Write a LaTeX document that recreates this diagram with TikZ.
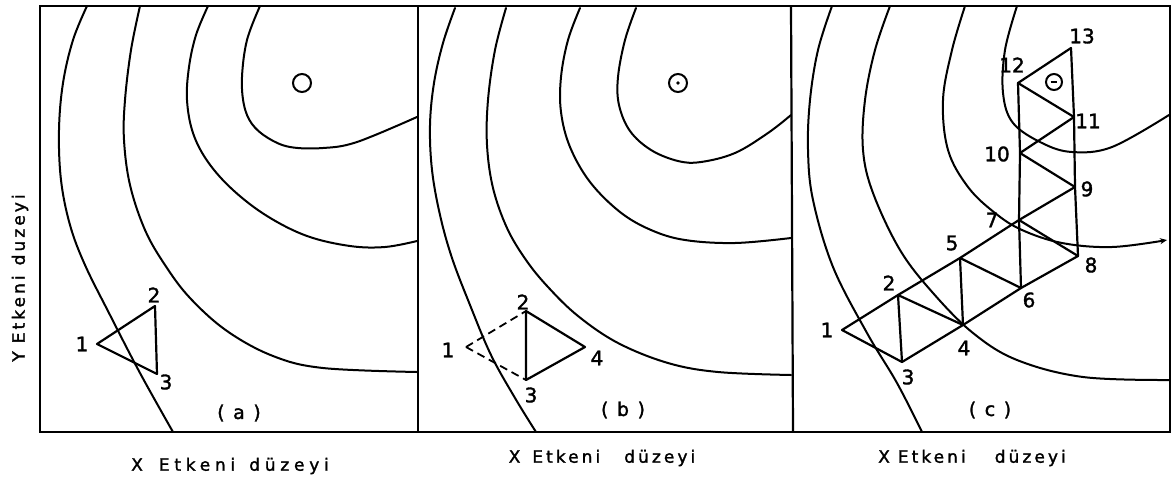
\documentclass[tikz,border=0pt]{standalone}
\usepackage{fontspec}
\setmainfont[FakeBold=1.6]{DejaVu Sans}
\newfontfamily\lsA[LetterSpace=28,FakeBold=1.6]{DejaVu Sans}
\newfontfamily\lsB[LetterSpace=18,FakeBold=1.6]{DejaVu Sans}
\newfontfamily\lsY[LetterSpace=18,FakeBold=1.6]{DejaVu Sans}
\newfontfamily\lsC[LetterSpace=45,FakeBold=1.6]{DejaVu Sans}
\usetikzlibrary{arrows.meta}
\begin{document}
\begin{tikzpicture}[x=1pt,y=-1pt,
  contour/.style={line width=2pt, line cap=round},
  frame/.style={line width=2.2pt},
  edge/.style={line width=2.2pt, line join=round, line cap=round},
  dashedge/.style={line width=1.8pt, dash pattern=on 8pt off 5pt},
  num/.style={inner sep=0pt, font=\fontsize{20}{20}\selectfont},
  axis/.style={inner sep=0pt, font=\fontsize{17}{17}\selectfont},
  panelcap/.style={inner sep=0pt, font=\fontsize{19}{19}\selectfont\lsC},
  optimum/.style={circle, draw, line width=2pt, minimum size=18pt, inner sep=0pt}
]
\useasboundingbox (0,0) rectangle (1174,480);
\fill[white] (0,0) rectangle (1174,480);

% frame
\draw[frame] (40,6) rectangle (1170,432);
\draw[frame] (418,6) -- (418,432);
\draw[frame] (791,6) -- (793,432);

% ---------- panel (a) ----------
\draw[contour] plot[smooth, tension=0.6] coordinates {(87,6) (73,40) (63,83) (59,130) (61,180) (70,225) (85,265) (110,315) (140,373) (173,432)};
\draw[contour] plot[smooth, tension=0.6] coordinates {(140,6) (131,50) (125,100) (124,140) (130,185) (145,230) (165,265) (190,298) (227,331) (273,356) (323,368) (417,372)};
\draw[contour] plot[smooth, tension=0.6] coordinates {(208,6) (196,35) (189,67) (187,100) (193,133) (208,162) (233,190) (267,216) (307,236) (350,246) (385,247) (417,241)};
\draw[contour] plot[smooth, tension=0.6] coordinates {(260,6) (247,40) (242,77) (244,105) (252,124) (268,138) (290,147) (323,148) (357,142) (417,117)};
\node[optimum] (oa) at (302,83) {};

\coordinate (a1) at (97,344);
\coordinate (a2) at (155,306);
\coordinate (a3) at (157,374);
\draw[edge] (a1) -- (a2) -- (a3) -- cycle;
\node[num] (la1) at (82,344) {1};
\node[num] (la2) at (154,295) {2};
\node[num] (la3) at (166,382) {3};
\node[panelcap] (capa) at (239,413) {(a)};

% ---------- panel (b) ----------
\draw[contour] plot[smooth, tension=0.6] coordinates {(455,8) (443,43) (434,83) (430,125) (432,170) (440,215) (452,258) (470,305) (491,355) (515,398) (536,432)};
\draw[contour] plot[smooth, tension=0.6] coordinates {(506,8) (495,50) (488,100) (487,145) (493,188) (507,228) (526,260) (548,287) (578,316) (618,343) (668,363) (718,372) (791,375)};
\draw[contour] plot[smooth, tension=0.6] coordinates {(580,8) (568,40) (561,77) (561,112) (570,147) (590,182) (620,212) (651,230) (685,240) (735,243) (791,238)};
\draw[contour] plot[smooth, tension=0.6] coordinates {(636,8) (625,40) (618,77) (619,105) (630,131) (651,150) (678,161) (701,162) (735,153) (768,133) (791,115)};
\node[optimum] (ob) at (678,83) {};
\fill (ob.center) circle (1.8pt);

\coordinate (b1) at (466,347);
\coordinate (b2) at (526,311);
\coordinate (b3) at (526,380);
\coordinate (b4) at (585,347);
\draw[dashedge] (b1) -- (b2);
\draw[dashedge] (b1) -- (b3);
\draw[edge] (b2) -- (b3) -- (b4) -- cycle;
\node[num] (lb1) at (448,350) {1};
\node[num] (lb2) at (523,302) {2};
\node[num] (lb3) at (531,395) {3};
\node[num] (lb4) at (597,358) {4};
\node[panelcap] (capb) at (623,410) {(b)};

% ---------- panel (c) ----------
\draw[contour] plot[smooth, tension=0.6] coordinates {(832,6) (818,50) (810,100) (808,150) (813,200) (833,267) (867,333) (897,383) (922,432)};
\draw[contour] plot[smooth, tension=0.6] coordinates {(890,6) (875,50) (865,100) (863,150) (873,193) (900,250) (933,293) (973,333) (1017,360) (1083,377) (1169,380)};
\draw[contour, -{Stealth[length=7pt,width=6pt]}] plot[smooth, tension=0.6] coordinates {(965,6) (952,50) (943,100) (948,150) (968,187) (995,213) (1022,230) (1062,243) (1112,247) (1167,240)};
\draw[contour] plot[smooth, tension=0.6] coordinates {(1017,6) (1005,50) (1003,93) (1013,123) (1042,143) (1072,152) (1112,147) (1169,115)};
\node[optimum, minimum size=16pt] (oc) at (1054,82) {};
\draw[line width=1.5pt] ([xshift=-3.5pt]oc.center) -- ([xshift=2.5pt]oc.center);

\coordinate (c1) at (842,330);
\coordinate (c2) at (898,295);
\coordinate (c3) at (902,362);
\coordinate (c4) at (963,325);
\coordinate (c5) at (960,258);
\coordinate (c6) at (1021,288);
\coordinate (c7) at (1019,220);
\coordinate (c8) at (1078,256);
\coordinate (c9) at (1075,187);
\coordinate (c10) at (1020,153);
\coordinate (c11) at (1074,117);
\coordinate (c12) at (1018,83);
\coordinate (c13) at (1071,48);
\draw[edge] (c1) -- (c2) -- (c5) -- (c7) -- (c9);
\draw[edge] (c1) -- (c3) -- (c4) -- (c6) -- (c8);
\draw[edge] (c2) -- (c3);
\draw[edge] (c2) -- (c4);
\draw[edge] (c4) -- (c5);
\draw[edge] (c5) -- (c6);
\draw[edge] (c6) -- (c7) -- (c10) -- (c12);
\draw[edge] (c7) -- (c8);
\draw[edge] (c8) -- (c9) -- (c11) -- (c13);
\draw[edge] (c9) -- (c10);
\draw[edge] (c10) -- (c11);
\draw[edge] (c11) -- (c12);
\draw[edge] (c12) -- (c13);
\node[num] (lc1) at (827,330) {1};
\node[num] (lc2) at (889,283) {2};
\node[num] (lc3) at (908,377) {3};
\node[num] (lc4) at (964,348) {4};
\node[num] (lc5) at (952,243) {5};
\node[num] (lc6) at (1029,300) {6};
\node[num] (lc7) at (992,220) {7};
\node[num] (lc8) at (1091,265) {8};
\node[num] (lc9) at (1087,189) {9};
\node[num] (lc10) at (997,154) {10};
\node[num] (lc11) at (1088,121) {11};
\node[num] (lc12) at (1012,65) {12};
\node[num] (lc13) at (1082,36) {13};
\node[panelcap] (capc) at (990,410) {(c)};

% ---------- axis labels ----------
\node[axis] (xa) at (230,466) {\lsA X\hspace{16pt}Etkeni\hspace{14pt}düzeyi};
\node[axis] (xb) at (602,458) {\lsB X\hspace{12pt}Etkeni\hspace{24pt}düzeyi};
\node[axis] (xc) at (972,458) {\lsB X\hspace{8pt}Etkeni\hspace{29pt}düzeyi};
\node[axis, rotate=90] (ya) at (20,278) {\lsY Y\hspace{8pt}Etkeni\hspace{10pt}duzeyi};
\end{tikzpicture}
\end{document}
